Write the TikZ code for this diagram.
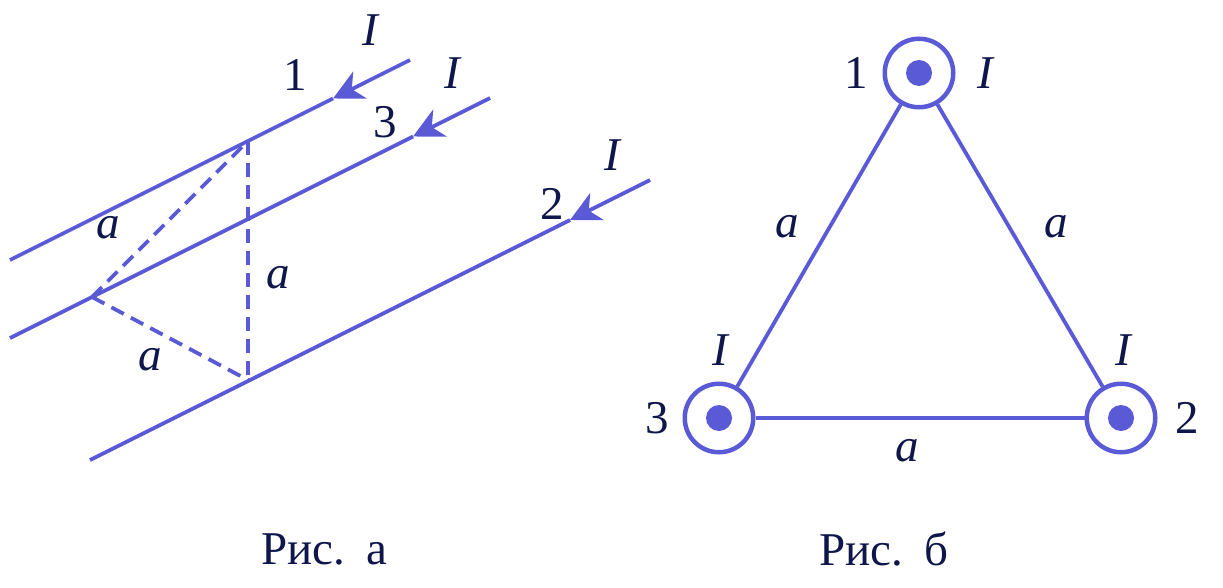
\documentclass[tikz,border=0pt]{standalone}
\usepackage{fontspec}
\setmainfont{Liberation Serif}
\usetikzlibrary{arrows.meta}
\definecolor{wire}{RGB}{90,90,215}
\definecolor{ink}{RGB}{14,22,75}
\begin{document}
\begin{tikzpicture}[x=1pt,y=-1pt,
  wireline/.style={draw=wire,line width=3.8pt},
  dashline/.style={draw=wire,line width=3.8pt,dash pattern=on 14pt off 8pt},
  arr/.style={-{Stealth[length=30pt,width=30pt,inset=9pt]}},
  lbl/.style={text=ink,font=\fontsize{47}{50}\selectfont,inner sep=0pt},
  lblit/.style={text=ink,font=\fontsize{47}{50}\selectfont\itshape,inner sep=0pt},
  wirecirc/.style={circle,draw=wire,line width=4.5pt,minimum size=68.5pt,inner sep=0pt},
  dotc/.style={circle,fill=wire,minimum size=26pt,inner sep=0pt}]
\useasboundingbox (0,0) rectangle (1223,588);
% ---- Fig. a ----
\coordinate (l1s) at (10,260);
\coordinate (l1e) at (410,60);
\coordinate (l1t) at (333,98.5);
\coordinate (l3s) at (10,338);
\coordinate (l3e) at (490,98);
\coordinate (l3t) at (413,136.5);
\coordinate (l2s) at (90,460);
\coordinate (l2e) at (650,180);
\coordinate (l2t) at (570,220);
\draw[wireline,arr] (l1e) -- (l1t);
\draw[wireline] (l1t) -- (l1s);
\draw[wireline,arr] (l3e) -- (l3t);
\draw[wireline] (l3t) -- (l3s);
\draw[wireline,arr] (l2e) -- (l2t);
\draw[wireline] (l2t) -- (l2s);
\coordinate (p1) at (248,141);
\coordinate (p3) at (92,297);
\coordinate (p2) at (248,380);
\draw[dashline] (p1) -- (p2);
\draw[dashline] (p3) -- (p1);
\draw[dashline] (p3) -- (p2);
\node[lblit] (aa1) at (108,228) {a};
\node[lblit] (aa2) at (278,278) {a};
\node[lblit] (aa3) at (150,360) {a};
\node[lbl] (na1) at (295,75) {1};
\node[lblit] (ia1) at (370,30) {I};
\node[lbl] (na3) at (385,122) {3};
\node[lblit] (ia3) at (452,73) {I};
\node[lbl] (na2) at (552,204) {2};
\node[lblit] (ia2) at (612,155) {I};
% ---- Fig. b ----
\node[wirecirc] (c1) at (919,73) {};
\node[wirecirc] (c3) at (719,418) {};
\node[wirecirc] (c2) at (1121,418) {};
\node[dotc] (d1) at (c1) {};
\node[dotc] (d3) at (c3) {};
\node[dotc] (d2) at (c2) {};
\draw[wireline] (c1) -- (c3);
\draw[wireline] (c1) -- (c2);
\draw[wireline] (c3) -- (c2);
\node[lbl] (nb1) at (856,73) {1};
\node[lblit] (ib1) at (985,73) {I};
\node[lbl] (nb3) at (657,418) {3};
\node[lblit] (ib3) at (720,350) {I};
\node[lbl] (nb2) at (1187,418) {2};
\node[lblit] (ib2) at (1123,350) {I};
\node[lblit] (ab1) at (787,227) {a};
\node[lblit] (ab2) at (1056,227) {a};
\node[lblit] (ab3) at (907,451) {a};
% captions
\node[lbl] (capa) at (324,549) {Рис.\hspace{0.45em}а};
\node[lbl] (capb) at (884,549) {Рис.\hspace{0.45em}б};
\end{tikzpicture}
\end{document}
